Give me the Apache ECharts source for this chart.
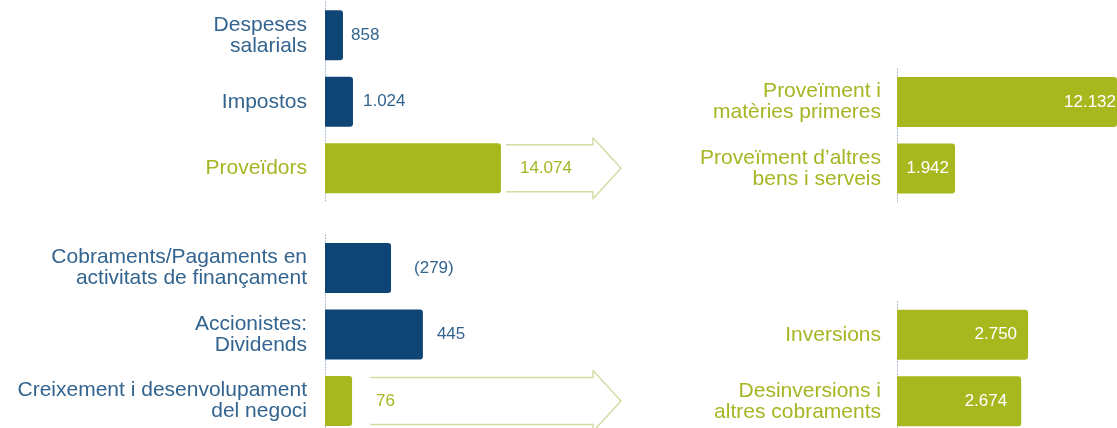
<!DOCTYPE html>
<html>
<head>
<meta charset="utf-8">
<script src="https://cdn.jsdelivr.net/npm/echarts@6/dist/echarts.min.js"></script>
<style>html,body{margin:0;padding:0;background:#fff}#c{width:1117px;height:428px}</style>
</head>
<body>
<div id="c"></div>
<script>
// ---- data ----
const leftTopCats = ['Despeses\nsalarials', 'Impostos', 'Proveïdors'];
const leftTopValues = [858, 1024, 14074];
const leftTopLabels = ['858', '1.024', '14.074'];

const leftBottomCats = ['Cobraments/Pagaments en\nactivitats de finançament', 'Accionistes:\nDividends', 'Creixement i desenvolupament\ndel negoci'];
const leftBottomValues = [279, 445, 76];
const leftBottomLabels = ['(279)', '445', '76'];

const rightTopCats = ['Proveïment i\nmatèries primeres', 'Proveïment d’altres\nbens i serveis'];
const rightTopValues = [12132, 1942];
const rightTopLabels = ['12.132', '1.942'];

const rightBottomCats = ['Inversions', 'Desinversions i\naltres cobraments'];
const rightBottomValues = [2750, 2674];
const rightBottomLabels = ['2.750', '2.674'];

// ---- styles ----
const NAVY = '#0f4574', GREEN = '#a7b81e', BLUE_TXT = '#33648f', GREEN_TXT = '#a6b522';
const FONT = '"Liberation Sans", Arial, sans-serif';

const chart = echarts.init(document.getElementById('c'), null, {renderer: 'canvas'});

function catAxis(cats, gridIndex, colors, margin) {
  return {
    type: 'category', gridIndex, inverse: true,
    data: cats.map((c, i) => ({value: c, textStyle: {color: colors[i]}})),
    axisTick: {show: false},
    axisLine: {show: true, onZero: false, lineStyle: {color: '#9fb4ce', type: [1, 2], width: 1}},
    axisLabel: {fontSize: 21, lineHeight: 21, margin, fontFamily: FONT, align: 'right'}
  };
}
function valAxis(gridIndex, type, min, max, extra) {
  return Object.assign({
    type, gridIndex, min, max, show: false,
    splitLine: {show: false}, axisLine: {show: false}, axisTick: {show: false}, axisLabel: {show: false}
  }, extra || {});
}
function barSeries(idx, values, labels, barColors, labelColors, positions, distances) {
  return {
    type: 'bar', xAxisIndex: idx, yAxisIndex: idx, barWidth: 50, clip: true,
    data: values.map((v, i) => ({
      value: v,
      itemStyle: {color: barColors[i], borderRadius: [0, 3, 3, 0]},
      label: {
        show: true, position: positions[i], distance: distances[i],
        formatter: () => labels[i], color: labelColors[i],
        fontSize: 17, fontFamily: FONT
      }
    }))
  };
}
function arrowSeries(idx, value, catIndex, gap) {
  return {
    type: 'custom', xAxisIndex: idx, yAxisIndex: idx, silent: true, z: 1,
    encode: {x: 0, y: 1},
    data: [[value, catIndex]],
    renderItem: function (params, api) {
      const p = api.coord([api.value(0), api.value(1)]);
      const cs = params.coordSys;
      const x0 = p[0] + gap, tip = cs.x + cs.width, hx = tip - 28, cy = p[1];
      const bh = 23.5, hh = 30.5;
      return {
        type: 'polyline',
        shape: {points: [[x0, cy - bh], [hx, cy - bh], [hx, cy - hh], [tip, cy], [hx, cy + hh], [hx, cy + bh], [x0, cy + bh]]},
        style: {stroke: '#d6dca4', lineWidth: 1.5, fill: null, lineJoin: 'round'}
      };
    }
  };
}

const option = {
  animation: false,
  backgroundColor: '#ffffff',
  textStyle: {fontFamily: FONT},
  grid: [
    {left: 325, top: 2, width: 296, height: 199.5, outerBoundsMode: 'none'},
    {left: 325, top: 234.75, width: 296, height: 199.5, outerBoundsMode: 'none'},
    {left: 897, top: 68.75, width: 220, height: 133, outerBoundsMode: 'none'},
    {left: 897, top: 301.5, width: 220, height: 133, outerBoundsMode: 'none'}
  ],
  xAxis: [
    valAxis(0, 'log', 624, 118000, {logBase: 10}),
    valAxis(1, 'value', -65, 1477, {startValue: -65}),
    valAxis(2, 'value', 1300, 3734),
    valAxis(3, 'value', 1300, 3734)
  ],
  yAxis: [
    catAxis(leftTopCats, 0, [BLUE_TXT, BLUE_TXT, GREEN_TXT], 18),
    catAxis(leftBottomCats, 1, [BLUE_TXT, BLUE_TXT, BLUE_TXT], 18),
    catAxis(rightTopCats, 2, [GREEN_TXT, GREEN_TXT], 16),
    catAxis(rightBottomCats, 3, [GREEN_TXT, GREEN_TXT], 16)
  ],
  series: [
    arrowSeries(0, leftTopValues[2], 2, 5),
    arrowSeries(1, leftBottomValues[2], 2, 18),
    barSeries(0, leftTopValues, leftTopLabels, [NAVY, NAVY, GREEN], [BLUE_TXT, BLUE_TXT, GREEN_TXT], ['right', 'right', 'right'], [8, 10, 19]),
    barSeries(1, leftBottomValues, leftBottomLabels, [NAVY, NAVY, GREEN], [BLUE_TXT, BLUE_TXT, GREEN_TXT], ['right', 'right', 'right'], [23, 14, 24]),
    barSeries(2, rightTopValues, rightTopLabels, [GREEN, GREEN], ['#ffffff', '#ffffff'], ['insideRight', 'insideRight'], [1, 6]),
    barSeries(3, rightBottomValues, rightBottomLabels, [GREEN, GREEN], ['#ffffff', '#ffffff'], ['insideRight', 'insideRight'], [11, 14])
  ]
};
chart.setOption(option);
</script>
</body>
</html>
